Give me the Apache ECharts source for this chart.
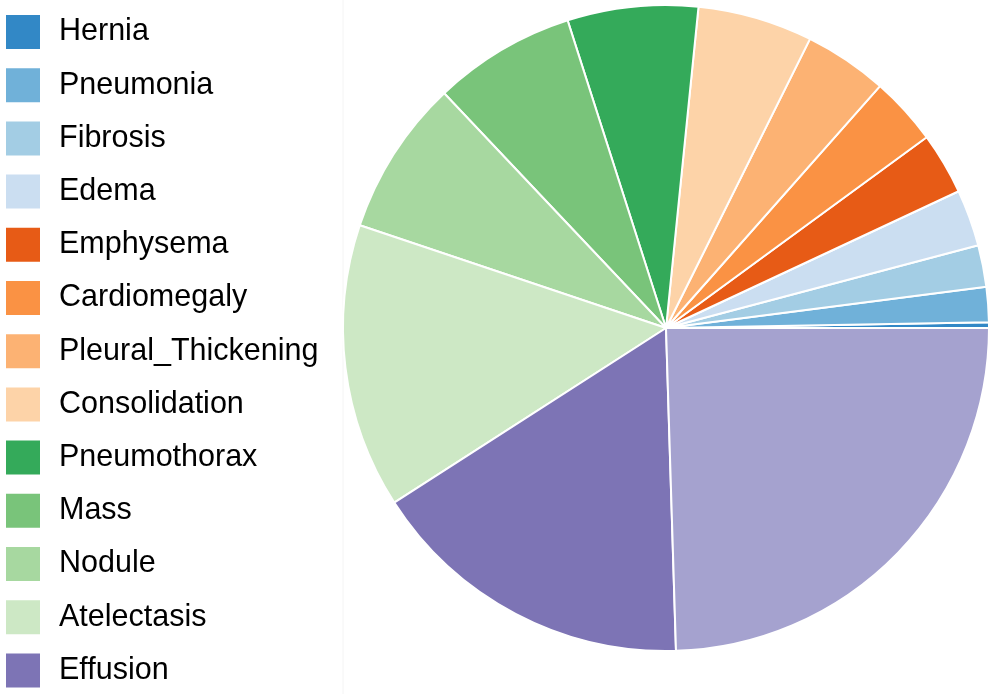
<!DOCTYPE html>
<html>
<head>
<meta charset="utf-8">
<script src="https://cdn.jsdelivr.net/npm/echarts@6/dist/echarts.min.js"></script>
<style>
html,body{margin:0;padding:0;background:#fff;}
#chart{width:995px;height:694px;}
</style>
</head>
<body>
<div id="chart"></div>
<script>
// Categories in drawing order (counter-clockwise from 3 o'clock)
const categories = ['Hernia','Pneumonia','Fibrosis','Edema','Emphysema','Cardiomegaly','Pleural_Thickening','Consolidation','Pneumothorax','Mass','Nodule','Atelectasis','Effusion','Infiltration'];
// Slice values (counts)
const values = [227,1431,1686,2303,2516,2776,3385,4667,5302,5782,6331,11559,13317,19894];
// Slice colours
const colors = ['#3288c6','#70b1d9','#a3cde4','#cbdef1','#e75b16','#fa9244','#fcb273','#fdd3a8','#34aa5a','#79c47a','#a7d8a0','#cde8c5','#7d74b5','#a5a2cf'];

const chart = echarts.init(document.getElementById('chart'), null, {renderer:'canvas'});
const pieData = categories.map((c,i)=>({name:c, value:values[i], itemStyle:{color:colors[i]}}));

chart.setOption({
  animation:false,
  backgroundColor:'#ffffff',
  legend:{
    type:'plain',
    orient:'vertical',
    left:6,
    top:15,
    padding:0,
    height:900,
    icon:'rect',
    itemWidth:34,
    itemHeight:34,
    itemGap:19.2,
    data:categories,
    itemStyle:{borderWidth:0},
    textStyle:{fontFamily:'Liberation Sans, Arial, sans-serif',fontSize:30.5,color:'#000',padding:[0,0,0,14]}
  },
  graphic:[{
    type:'line',
    shape:{x1:343,y1:0,x2:343,y2:694},
    style:{stroke:'#f4f4f4',lineWidth:1},
    silent:true
  }],
  series:[{
    type:'pie',
    center:[666,328],
    radius:[0,323],
    startAngle:0,
    clockwise:false,
    avoidLabelOverlap:false,
    label:{show:false},
    labelLine:{show:false},
    emphasis:{disabled:true},
    itemStyle:{borderColor:'#ffffff',borderWidth:2},
    data:pieData
  }]
});
</script>
</body>
</html>
